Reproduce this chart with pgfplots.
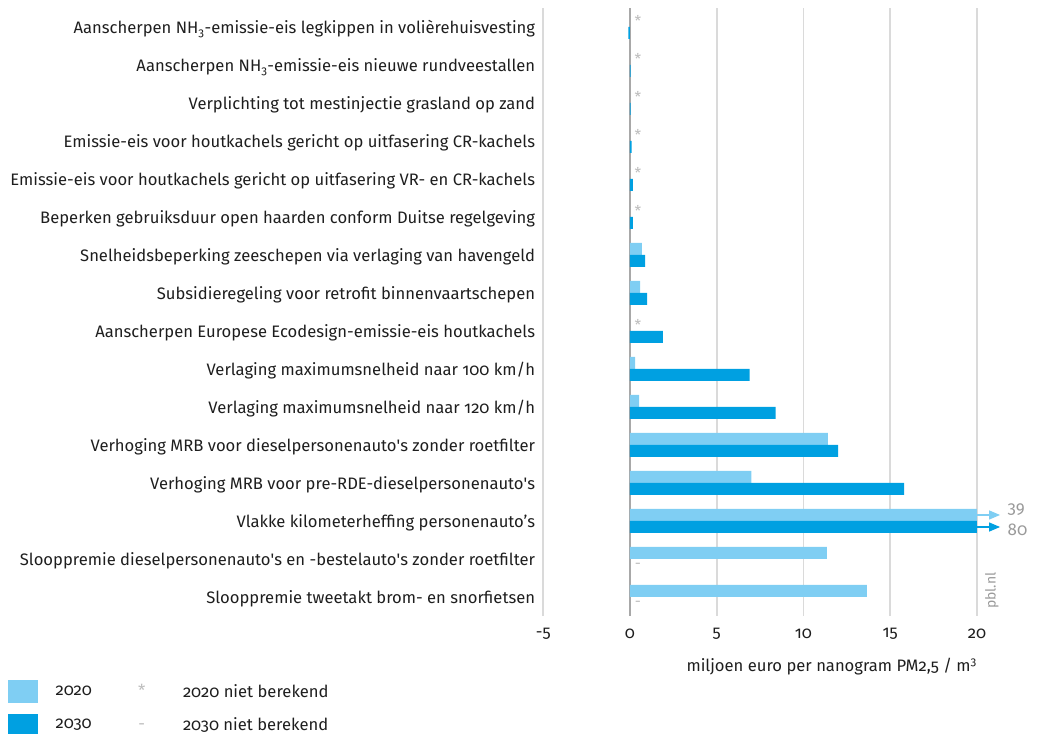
\documentclass[border=0pt]{standalone}
\usepackage{fontspec}
\setmainfont{Fira Sans}[Numbers=OldStyle]
\usepackage{pgfplots}
\pgfplotsset{compat=1.18}
\usetikzlibrary{arrows.meta}
\definecolor{cA}{HTML}{7FCEF3}
\definecolor{cB}{HTML}{00A0E1}
\definecolor{gridc}{HTML}{DADADA}
\definecolor{zeroc}{HTML}{A8A8A8}
\definecolor{markc}{HTML}{BDBDBD}
\definecolor{numc}{HTML}{9A9A9A}
\definecolor{txt}{HTML}{1E1E1E}
\begin{document}
\begin{tikzpicture}[font=\fontsize{16.6}{19}\selectfont, text=txt]
\useasboundingbox (0,0) rectangle (1037pt,734pt);
\begin{axis}[
  at={(543.25pt,118pt)}, anchor=south west,
  scale only axis, width=433.75pt, height=608pt,
  xmin=-5, xmax=20, ymin=-0.5, ymax=15.5,
  enlargelimits=false, clip=false,
  axis line style={draw=none},
  major tick length=0pt,
  tick style={draw=none},
  xtick={-5,5,10,15,20}, xticklabels={-5,5,10,15,20},
  extra x ticks={0}, extra x tick labels={0},
  extra x tick style={grid=major, major grid style={zeroc, line width=1.7pt}},
  xmajorgrids, major grid style={gridc, line width=1.8pt},
  xticklabel style={yshift=-9pt},
  ytick={0,...,15},
  yticklabels={
    Slooppremie tweetakt brom- en snorfietsen,
    Slooppremie dieselpersonenauto\textquotesingle s en -bestelauto\textquotesingle s zonder roetfilter,
    Vlakke kilometerheffing personenauto’s,
    Verhoging MRB voor pre-RDE-dieselpersonenauto\textquotesingle s,
    Verhoging MRB voor dieselpersonenauto\textquotesingle s zonder roetfilter,
    Verlaging maximumsnelheid naar 120 km/h,
    Verlaging maximumsnelheid naar 100 km/h,
    Aanscherpen Europese Ecodesign-emissie-eis houtkachels,
    Subsidieregeling voor retrofit binnenvaartschepen,
    Snelheidsbeperking zeeschepen via verlaging van havengeld,
    Beperken gebruiksduur open haarden conform Duitse regelgeving,
    Emissie-eis voor houtkachels gericht op uitfasering VR- en CR-kachels,
    Emissie-eis voor houtkachels gericht op uitfasering CR-kachels,
    Verplichting tot mestinjectie grasland op zand,
    Aanscherpen NH\textsubscript{3}-emissie-eis nieuwe rundveestallen,
    Aanscherpen NH\textsubscript{3}-emissie-eis legkippen in volièrehuisvesting},
  yticklabel style={inner sep=0pt, xshift=-8pt, yshift=-2pt},
  xlabel={miljoen euro per nanogram PM2,5 / m\textsuperscript{3}},
  xlabel style={at={(axis description cs:1,0)}, anchor=north east, yshift=-42pt, inner sep=0pt},
  legend columns=2, legend cell align=left,
  legend style={at={(-1.234,-0.1053)}, anchor=north west, draw=none, fill=none,
    inner sep=0pt, row sep=11pt, nodes={inner sep=0pt}, font=\fontsize{16.6}{19}\selectfont},
]
\addlegendimage{legend image code/.code={\fill[cA] (0pt,-11pt) rectangle (29pt,11pt); \path (47pt,0pt);}}
\addlegendentry{\makebox[82pt][l]{2020}}
\addlegendimage{legend image code/.code={\path (0pt,0pt) (45pt,0pt); \node[anchor=base, text=markc, inner sep=0pt] at (4pt,-5pt) {*};}}
\addlegendentry{2020 niet berekend}
\addlegendimage{legend image code/.code={\fill[cB] (0pt,-11pt) rectangle (29pt,11pt); \path (47pt,0pt);}}
\addlegendentry{\makebox[82pt][l]{2030}}
\addlegendimage{legend image code/.code={\path (0pt,0pt) (45pt,0pt); \node[anchor=base, text=markc, inner sep=0pt] at (4pt,-5pt) {-};}}
\addlegendentry{2030 niet berekend}

% 2020
\addplot[xbar, bar width=12pt, bar shift=6pt, fill=cA, draw=none, forget plot] coordinates {
(13.65,0) (11.35,1) (20,2) (7.0,3) (11.4,4) (0.52,5) (0.3,6) (0.58,8) (0.69,9)};
% 2030
\addplot[xbar, bar width=12pt, bar shift=-6pt, fill=cB, draw=none, forget plot] coordinates {
(20,2) (15.8,3) (12.0,4) (8.4,5) (6.9,6) (1.9,7) (0.98,8) (0.87,9) (0.17,10) (0.17,11) (0.1,12) (0.03,13) (0.03,14) (-0.1,15)};
% 2020 niet berekend
\addplot[draw=none, mark=none, forget plot, nodes near coords={*},
  every node near coord/.append style={anchor=base, text=markc, inner sep=0pt, font=\fontsize{15}{18}\selectfont}] coordinates {
(0.46,7.02) (0.46,10.02) (0.46,11.02) (0.46,12.02) (0.46,13.02) (0.46,14.02) (0.46,15.02)};
% 2030 niet berekend
\addplot[draw=none, mark=none, forget plot, nodes near coords={-},
  every node near coord/.append style={anchor=base, text=markc, inner sep=0pt, font=\fontsize{15}{18}\selectfont}] coordinates {
(0.46,-0.26) (0.46,0.74)};
% off-scale values
\addplot[cA, line width=1.3pt, -{Triangle[length=11pt,width=9pt]}, forget plot] coordinates {(20,2.158) (21.33,2.158)}
  node[pos=1, anchor=west, xshift=7pt, yshift=5pt, text=numc, font=\fontsize{17}{20}\selectfont, inner sep=0pt] {39};
\addplot[cB, line width=1.3pt, -{Triangle[length=11pt,width=9pt]}, forget plot] coordinates {(20,1.842) (21.33,1.842)}
  node[pos=1, anchor=west, xshift=7pt, yshift=-2.5pt, text=numc, font=\fontsize{17}{20}\selectfont, inner sep=0pt] {80};
\node[rotate=90, anchor=west, text=numc, inner sep=0pt, font=\fontsize{14}{16}\selectfont] at (axis cs:20.86,-0.32) {pbl.nl};
\end{axis}
\end{tikzpicture}
\end{document}
